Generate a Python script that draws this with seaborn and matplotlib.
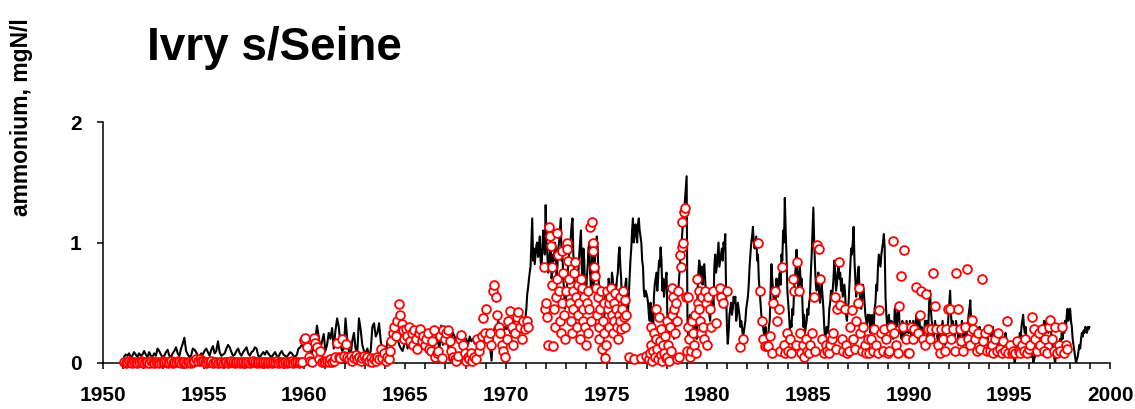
import numpy as np
import pandas as pd
import matplotlib
matplotlib.use("Agg")
import matplotlib.pyplot as plt
from matplotlib.ticker import MultipleLocator
import seaborn as sns

nan = np.nan

# Simulated ammonium (mgN/l); each row is one year, values evenly spaced in time
model_1950s = [  # 1951-1959, monthly
    [0.05, 0.07, 0.06, 0.08, 0.05, 0.06, 0.09, 0.07, 0.05, 0.08, 0.06, 0.07],
    [0.10, 0.07, 0.05, 0.09, 0.06, 0.05, 0.08, 0.06, 0.12, 0.10, 0.07, 0.05],
    [0.06, 0.09, 0.11, 0.06, 0.05, 0.08, 0.10, 0.13, 0.08, 0.06, 0.12, 0.16],
    [0.21, 0.10, 0.07, 0.05, 0.06, 0.12, 0.11, 0.09, 0.06, 0.05, 0.08, 0.07],
    [0.10, 0.12, 0.09, 0.06, 0.11, 0.14, 0.08, 0.10, 0.18, 0.09, 0.06, 0.07],
    [0.08, 0.12, 0.15, 0.13, 0.09, 0.06, 0.07, 0.10, 0.12, 0.08, 0.06, 0.09],
    [0.11, 0.13, 0.08, 0.06, 0.09, 0.10, 0.13, 0.12, 0.06, 0.05, 0.07, 0.09],
    [0.07, 0.10, 0.08, 0.06, 0.05, 0.07, 0.09, 0.06, 0.05, 0.08, 0.10, 0.07],
    [0.06, 0.05, 0.07, 0.09, 0.08, 0.06, 0.05, 0.07, 0.12, 0.13, 0.15, 0.14],
]
model_1960s = [  # 1960-1970, monthly
    [0.12, 0.18, 0.14, 0.10, 0.08, 0.15, 0.20, 0.31, 0.22, 0.12, 0.18, 0.24],
    [0.10, 0.15, 0.25, 0.20, 0.29, 0.12, 0.27, 0.37, 0.30, 0.15, 0.10, 0.12],
    [0.37, 0.20, 0.10, 0.06, 0.18, 0.25, 0.12, 0.08, 0.37, 0.28, 0.15, 0.10],
    [0.08, 0.12, 0.06, 0.10, 0.30, 0.33, 0.22, 0.25, 0.33, 0.18, 0.10, 0.06],
    [0.10, 0.18, 0.20, 0.15, 0.22, 0.18, 0.25, 0.20, 0.15, 0.12, 0.10, 0.15],
    [0.20, 0.12, 0.22, 0.18, 0.25, 0.10, 0.15, 0.22, 0.20, 0.18, 0.12, 0.15],
    [0.18, 0.22, 0.15, 0.10, 0.20, 0.14, 0.25, 0.18, 0.12, 0.31, 0.15, 0.20],
    [0.22, 0.18, 0.02, 0.20, 0.25, 0.22, 0.18, 0.20, 0.24, 0.20, 0.22, 0.18],
    [0.20, 0.15, 0.22, 0.18, 0.20, 0.16, 0.18, 0.22, 0.20, 0.15, 0.18, 0.20],
    [0.18, 0.22, 0.15, 0.02, 0.25, 0.30, 0.28, 0.35, 0.30, 0.22, 0.25, 0.30],
    [0.28, 0.32, 0.25, 0.30, 0.35, 0.30, 0.22, 0.28, 0.32, 0.25, 0.30, 0.35],
]
model_1970s = [  # 1971-1979, twice a month
    [0.45, 0.57, 0.62, 0.69, 0.75, 0.80, 1.00, 1.20, 0.85, 0.95, 0.82, 0.90,
     0.98, 1.00, 0.88, 0.92, 1.05, 0.85, 0.78, 0.95, 1.10, 1.02, 0.90, 1.31],
    [1.00, 0.90, 0.75, 0.80, 0.95, 1.00, 0.70, 0.75, 0.90, 0.85, 1.00, 0.95,
     0.72, 0.80, 0.95, 1.00, 1.10, 1.20, 0.85, 0.90, 0.70, 0.60, 0.45, 0.52],
    [0.60, 0.70, 0.85, 0.90, 0.95, 1.05, 1.15, 1.20, 0.90, 0.80, 0.55, 0.60,
     0.40, 0.45, 0.75, 0.90, 1.00, 1.10, 0.80, 0.70, 0.95, 0.85, 0.60, 0.50],
    [0.70, 0.80, 0.95, 1.00, 0.75, 0.60, 0.80, 0.90, 0.65, 0.70, 0.90, 1.00,
     1.05, 0.95, 0.70, 0.60, 0.45, 0.30, 0.15, 0.05, 0.30, 0.40, 0.55, 0.60],
    [0.45, 0.50, 0.70, 0.65, 0.50, 0.55, 0.75, 0.70, 0.45, 0.50, 0.65, 0.60,
     0.70, 0.75, 0.90, 0.96, 0.80, 0.70, 0.45, 0.30, 0.45, 0.55, 0.65, 0.70],
    [0.50, 0.40, 0.55, 0.70, 0.85, 0.95, 1.10, 1.20, 1.00, 1.05, 1.15, 1.10,
     1.00, 1.15, 1.20, 1.10, 1.05, 1.00, 0.85, 0.80, 0.60, 0.55, 0.60, 0.58],
    [0.55, 0.50, 0.40, 0.35, 0.50, 0.45, 0.25, 0.14, 0.55, 0.65, 0.70, 0.75,
     0.60, 0.70, 0.85, 0.80, 0.96, 0.85, 0.60, 0.70, 0.55, 0.65, 0.70, 0.75],
    [0.40, 0.30, 0.25, 0.35, 0.30, 0.28, 0.35, 0.30, 0.20, 0.25, 0.40, 0.35,
     0.55, 0.60, 0.70, 0.80, 0.95, 1.00, 1.10, 1.20, 1.25, 1.35, 1.45, 1.55],
    [0.30, 0.20, 0.35, 0.40, 0.25, 0.30, 0.40, 0.25, 0.30, 0.35, 0.25, 0.20,
     0.60, 0.75, 0.85, 0.80, 0.70, 0.80, 0.65, 0.78, 0.82, 0.70, 0.55, 0.60],
]
model_1980s = [  # 1980-1989, twice a month
    [0.55, 0.50, 0.40, 0.35, 0.50, 0.60, 0.55, 0.45, 0.80, 0.90, 0.75, 0.80,
     0.90, 1.00, 0.80, 0.85, 0.90, 0.95, 0.85, 1.00, 0.95, 1.07, 0.60, 0.30],
    [0.16, 0.25, 0.40, 0.45, 0.50, 0.40, 0.45, 0.55, 0.50, 0.55, 0.35, 0.40,
     0.50, 0.45, 0.40, 0.30, 0.35, 0.30, 0.22, 0.25, 0.30, 0.35, 0.45, 0.50],
    [0.55, 0.65, 0.80, 0.90, 1.00, 1.05, 1.13, 1.00, 0.95, 1.00, 1.05, 0.85,
     0.90, 0.70, 0.60, 0.50, 0.40, 0.35, 0.30, 0.25, 0.22, 0.30, 0.20, 0.25],
    [0.20, 0.30, 0.35, 0.60, 0.82, 0.70, 0.60, 0.50, 0.55, 0.50, 0.70, 0.60,
     0.55, 0.70, 0.75, 0.65, 0.90, 0.85, 1.10, 1.00, 1.37, 1.10, 0.90, 0.60],
    [0.50, 0.40, 0.27, 0.35, 0.30, 0.45, 0.40, 0.60, 0.70, 0.80, 0.94, 0.75,
     0.60, 0.70, 0.80, 0.65, 0.70, 0.50, 0.30, 0.40, 0.25, 0.30, 0.35, 0.45],
    [0.40, 0.50, 0.55, 0.75, 0.90, 1.10, 1.29, 1.00, 0.80, 0.65, 0.60, 0.70,
     0.75, 0.55, 0.50, 0.60, 0.65, 0.55, 0.45, 0.30, 0.20, 0.25, 0.30, 0.25],
    [0.30, 0.45, 0.50, 0.60, 0.55, 0.60, 0.70, 0.85, 0.75, 0.60, 0.65, 0.75,
     0.80, 0.70, 0.75, 0.60, 0.70, 0.55, 0.60, 0.65, 0.55, 0.40, 0.35, 0.45],
    [0.50, 0.65, 0.80, 0.95, 0.90, 1.00, 1.13, 0.85, 0.70, 0.55, 0.60, 0.75,
     0.80, 0.60, 0.50, 0.45, 0.55, 0.65, 0.60, 0.50, 0.40, 0.35, 0.30, 0.40],
    [0.35, 0.40, 0.25, 0.30, 0.40, 0.35, 0.30, 0.45, 0.50, 0.65, 0.60, 0.80,
     0.90, 0.85, 0.80, 0.90, 0.95, 1.00, 1.07, 0.95, 0.55, 0.40, 0.30, 0.35],
    [0.40, 0.30, 0.25, 0.35, 0.30, 0.20, 0.25, 0.45, 0.40, 0.30, 0.35, 0.50,
     0.45, 0.25, 0.30, 0.20, 0.35, 0.30, 0.22, 0.30, 0.25, 0.35, 0.30, 0.25],
]
model_1990s = [  # 1990-1998, twice a month
    [0.25, 0.35, 0.30, 0.20, 0.22, 0.35, 0.30, 0.25, 0.35, 0.40, 0.28, 0.20,
     0.40, 0.30, 0.25, 0.30, 0.20, 0.15, 0.25, 0.35, 0.30, 0.35, 0.20, 0.30],
    [0.50, 0.60, 0.45, 0.35, 0.30, 0.20, 0.25, 0.35, 0.30, 0.25, 0.20, 0.15,
     0.30, 0.20, 0.25, 0.30, 0.35, 0.25, 0.28, 0.15, 0.22, 0.30, 0.25, 0.40],
    [0.50, 0.60, 0.40, 0.30, 0.35, 0.30, 0.20, 0.25, 0.35, 0.30, 0.25, 0.15,
     0.30, 0.22, 0.25, 0.35, 0.30, 0.20, 0.28, 0.15, 0.20, 0.25, 0.30, 0.40],
    [0.45, 0.52, 0.35, 0.30, 0.28, 0.20, 0.15, 0.30, 0.25, 0.20, 0.18, 0.25,
     0.30, 0.22, 0.15, 0.25, 0.22, 0.12, 0.15, 0.25, 0.20, 0.15, 0.20, 0.30],
    [0.30, 0.28, 0.22, 0.25, 0.30, 0.20, 0.15, 0.20, 0.15, 0.10, 0.22, 0.18,
     0.12, 0.20, 0.18, 0.12, 0.08, 0.15, 0.20, 0.25, 0.20, 0.10, 0.15, 0.10],
    [0.05, 0.10, 0.15, 0.08, 0.10, 0.05, 0.00, 0.05, 0.12, 0.15, 0.20, 0.15,
     0.25, 0.20, 0.30, 0.35, 0.40, 0.30, 0.25, 0.30, 0.20, 0.15, 0.20, 0.15],
    [0.15, 0.10, 0.05, 0.10, 0.00, 0.03, 0.05, 0.10, 0.15, 0.10, 0.20, 0.15,
     0.20, 0.15, 0.25, 0.20, 0.30, 0.35, 0.30, 0.25, 0.35, 0.30, 0.25, 0.30],
    [0.35, 0.30, 0.20, 0.15, 0.10, 0.05, 0.00, 0.05, 0.08, 0.12, 0.15, 0.10,
     0.20, 0.15, 0.25, 0.20, 0.30, 0.25, 0.35, 0.30, 0.40, 0.45, 0.35, 0.40],
    [0.45, 0.35, 0.30, 0.20, 0.15, 0.10, 0.05, 0.00, 0.03, 0.05, 0.10, 0.15,
     0.12, 0.20, 0.25, 0.22, 0.27, 0.25, 0.30, 0.28, 0.25, 0.30, 0.28, 0.30],
]

# Measured ammonium (mgN/l): one row per year, samples spread evenly
# through the year; nan marks a period without a sample
obs_1950s = [  # 1951-1959
    [0.01, 0.00, 0.01, 0.02, 0.01, 0.00, 0.01, 0.01, 0.00, 0.01, 0.02, 0.01],
    [0.00, 0.01, 0.01, 0.00, 0.02, 0.01, 0.00, 0.01, 0.01, 0.00, 0.01, 0.02],
    [0.01, 0.01, 0.00, 0.01, 0.02, 0.00, 0.01, 0.01, 0.02, 0.01, 0.00, 0.01],
    [0.01, 0.00, 0.01, 0.01, 0.00, 0.01, 0.02, 0.03, 0.02, 0.03, 0.02, 0.02],
    [0.01, 0.00, 0.01, 0.01, 0.02, 0.00, 0.01, 0.01, 0.00, 0.01, 0.01, 0.00],
    [0.01, 0.01, 0.00, 0.01, 0.02, 0.01, 0.00, 0.01, 0.01, 0.00, 0.01, 0.01],
    [0.00, 0.01, 0.01, 0.00, 0.01, 0.02, 0.01, 0.00, 0.01, 0.01, 0.00, 0.01],
    [0.01, 0.00, 0.01, 0.01, 0.00, 0.01, 0.01, 0.02, 0.00, 0.01, 0.01, 0.00],
    [0.01, 0.00, 0.01, 0.01, 0.02, 0.00, 0.01, 0.01, 0.00, 0.01, 0.01, 0.19],
]
obs_1960s = [  # 1960-1969
    [0.21, 0.13, 0.05, 0.02, 0.01, 0.21, 0.17, 0.13, 0.03, 0.10, 0.01, 0.02],
    [0.01, 0.02, 0.01, 0.03, 0.01, 0.02, 0.05, 0.17, 0.05, 0.04, 0.20, 0.06],
    [0.16, 0.05, 0.03, 0.06, 0.02, 0.04, 0.07, 0.03, 0.05, 0.02, 0.04, 0.06],
    [0.03, 0.05, 0.02, 0.04, 0.01, 0.03, 0.02, 0.05, 0.03, 0.12, 0.04, 0.08],
    [0.02, 0.05, 0.03, 0.10, 0.18, 0.25, 0.30, 0.22, 0.35, 0.49, 0.40, 0.32, 0.27, 0.20],
    [0.28, 0.22, 0.30, 0.18, 0.25, 0.15, 0.27, 0.20, 0.12, 0.25, 0.28, 0.18, 0.22, 0.15],
    [0.20, 0.25, 0.12, 0.10, 0.18, 0.27, 0.05, 0.08, 0.10, 0.22, 0.04, 0.27, 0.20],
    [0.25, 0.27, 0.18, 0.10, 0.05, 0.03, 0.02, 0.06, 0.20, 0.23, 0.15, 0.08],
    [0.02, 0.05, 0.03, 0.08, 0.02, 0.05, 0.03, 0.20, 0.10, 0.15, 0.22, 0.37, 0.25],
    [0.45, 0.20, 0.25, 0.15, 0.60, 0.65, 0.55, 0.40, 0.30, 0.25, 0.15, 0.10, 0.05],
]
obs_1970s = [  # 1970-1979
    [0.20, 0.35, 0.43, 0.30, 0.15, 0.25, 0.38, 0.42, 0.30, 0.20, 0.35, 0.28],
    [0.35, 0.30, nan, nan, nan, nan, nan, nan, nan, nan, 0.80, 0.45],
    [0.50, 0.38, 0.15, 1.13, 1.05, 0.97, 0.80, 0.65, 0.14, 0.45, 0.30, 0.55,
     0.70, 1.08, 0.90, 0.60, 0.35, 0.25, 0.50, 0.93, 0.75, 0.40, 0.20, 0.60],
    [1.00, 0.95, 0.85, 0.70, 0.50, 0.35, 0.25, 0.60, 0.45, 0.75, 0.84, 0.55,
     0.30, 0.40, 0.65, 0.50, 0.20, 0.70, 0.62, 0.45, 0.35, 0.55, 0.30, 0.15],
    [0.50, 0.25, 0.60, 0.45, 1.13, 0.35, 1.17, 1.00, 0.93, 0.80, 0.72, 0.62,
     0.40, 0.55, 0.30, 0.20, 0.45, 0.60, 0.12, 0.35, 0.25, 0.50, 0.04, 0.15],
    [0.60, 0.45, 0.50, 0.30, 0.55, 0.62, 0.40, 0.25, 0.35, 0.50, 0.58, 0.45,
     0.30, 0.20, 0.40, 0.55, 0.35, 0.28, 0.45, 0.60, 0.38, 0.30, 0.52, 0.40],
    [nan, 0.05, nan, nan, 0.03, nan, nan, nan, 0.04, nan, nan, 0.06],
    [nan, nan, 0.03, 0.08, 0.15, 0.30, 0.02, 0.10, 0.25, 0.05, 0.20, 0.45,
     0.12, 0.03, 0.38, 0.18, 0.07, 0.28, 0.02, 0.15, 0.08, 0.22, 0.04, 0.35],
    [0.05, 0.15, 0.02, 0.30, 0.10, 0.40, 0.62, 0.55, 0.45, 0.25, 0.50, 0.03,
     0.35, 0.60, 0.05, 0.90, 0.80, 1.17, 0.96, 1.00, 1.25, 1.29, 0.55, 0.10],
    [0.55, 0.30, 0.20, 0.05, 0.10, 0.35, 0.25, 0.15, 0.40, 0.08, 0.70, 0.50,
     0.60, 0.45, 0.35, 0.25, 0.55, 0.30, 0.20, 0.60, 0.50, 0.15],
]
obs_1980s = [  # 1980-1989
    [0.55, 0.45, 0.30, 0.60, nan, 0.33, nan, 0.62, 0.55, 0.50, nan, 0.60],
    [nan, nan, nan, nan, nan, nan, nan, 0.13, nan, 0.20, nan, nan],
    [nan, nan, nan, nan, nan, nan, 1.00, 0.60, 0.35, 0.20, 0.14, 0.14],
    [0.14, 0.22, 0.08, 0.50, 0.60, 0.35, 0.45, 0.10, 0.80, 0.15, 0.08, 0.25],
    [0.10, 0.20, 0.08, 0.70, 0.60, 0.15, 0.84, 0.60, 0.25, 0.08, 0.15, 0.05, 0.20, 0.10],
    [0.08, 0.15, 0.25, 0.55, 0.10, 0.98, 0.95, 0.70, 0.20, 0.08, 0.15, 0.10],
    [0.08, 0.15, 0.20, 0.25, 0.55, 0.12, 0.45, 0.84, 0.48, 0.20, 0.10, 0.45, 0.15, 0.08],
    [0.10, 0.30, 0.44, 0.20, 0.12, 0.35, 0.50, 0.62, 0.25, 0.10, 0.30, 0.15, 0.08, 0.20],
    [0.08, 0.20, 0.10, 0.28, 0.15, 0.08, 0.44, 0.25, 0.10, 0.28, 0.20, 0.08],
    [0.10, 0.30, 1.01, 0.25, 0.15, 0.08, 0.47, 0.72, 0.30, 0.94, 0.20, 0.08],
]
obs_1990s = [  # 1990-1997
    [0.08, 0.30, 0.20, 0.28, 0.63, 0.25, 0.40, 0.60, 0.20, 0.15, 0.57, 0.28],
    [0.20, 0.28, 0.75, 0.47, 0.28, 0.15, 0.08, 0.28, 0.20, 0.10, 0.28, 0.45],
    [0.45, 0.20, 0.28, 0.10, 0.75, 0.45, 0.28, 0.18, 0.10, 0.30, 0.78, 0.20],
    [0.15, 0.36, 0.28, 0.20, 0.10, 0.25, 0.12, 0.70, 0.18, 0.25, 0.10, 0.28],
    [0.10, 0.15, 0.08, 0.20, 0.10, 0.25, 0.12, 0.08, 0.18, 0.10, 0.35, 0.08],
    [0.15, 0.08, 0.10, 0.08, 0.18, 0.10, 0.08, 0.15, 0.10, 0.20, 0.08, 0.12],
    [0.15, 0.38, 0.28, 0.20, 0.10, 0.25, 0.15, 0.28, 0.10, 0.20, 0.08, 0.30],
    [0.36, 0.20, 0.10, 0.30, 0.08, 0.15, 0.10, 0.30, 0.08, 0.15, 0.12, nan],
]

model_first_year = 1951
obs_first_year = 1951
x_ticks = [1950, 1955, 1960, 1965, 1970, 1975, 1980, 1985, 1990, 1995, 2000]
y_ticks = [0, 1, 2]
title = "Ivry s/Seine"
y_label = "ammonium, mgN/l"


def to_frame(rows, first_year):
    """Place each row's values at evenly spaced dates within its year."""
    t, v = [], []
    for k, row in enumerate(rows):
        n = len(row)
        for i, val in enumerate(row):
            t.append(first_year + k + (i + 0.5) / n)
            v.append(val)
    return pd.DataFrame({"year": t, "value": v}).dropna()


model = to_frame(model_1950s + model_1960s + model_1970s + model_1980s + model_1990s,
                 model_first_year)
obs = to_frame(obs_1950s + obs_1960s + obs_1970s + obs_1980s + obs_1990s,
               obs_first_year)

sns.set_theme(style="ticks")
plt.rcParams["font.family"] = ["Liberation Sans", "DejaVu Sans"]
plt.rcParams["font.weight"] = "bold"
for key in ("text.color", "axes.labelcolor", "xtick.color", "ytick.color",
            "axes.edgecolor"):
    plt.rcParams[key] = "black"

W, H = 1135, 409
fig = plt.figure(figsize=(W / 100, H / 100), dpi=100)
ax = fig.add_axes([103 / W, 46 / H, (1110 - 103) / W, (363 - 122) / H])

sns.lineplot(data=model, x="year", y="value", ax=ax, color="black",
             linewidth=1.5, estimator=None, sort=True, zorder=2)
sns.scatterplot(data=obs, x="year", y="value", ax=ax, s=40, marker="o",
                facecolor="white", edgecolor="red", linewidth=1.3,
                zorder=3, clip_on=False)

ax.set_xlim(1950, 2000)
ax.set_ylim(0, 2)
ax.set_xticks(x_ticks)
ax.xaxis.set_minor_locator(MultipleLocator(1))
ax.set_yticks(y_ticks)
ax.set_xlabel("")
ax.set_ylabel("")

for side in ("top", "right"):
    ax.spines[side].set_visible(False)
for side in ("left", "bottom"):
    ax.spines[side].set_linewidth(1.1)
    ax.spines[side].set_color("black")

ax.tick_params(axis="x", which="both", direction="out", length=4.5, width=1.1,
               color="black", labelcolor="black", labelsize=15, pad=12)
ax.tick_params(axis="y", which="major", direction="out", length=4.5, width=1.1,
               color="black", labelcolor="black", labelsize=15, pad=11)
for lab in ax.get_xticklabels() + ax.get_yticklabels():
    lab.set_fontweight("bold")

fig.text(147 / W, 1 - 60 / H, title, fontsize=33, fontweight="bold",
         color="black", ha="left", va="baseline")
fig.text(22 / W, 1 - 117 / H, y_label, fontsize=16.5, fontweight="bold",
         color="black", rotation=90, ha="center", va="center")

fig.savefig("out.png", dpi=100, facecolor="white")
